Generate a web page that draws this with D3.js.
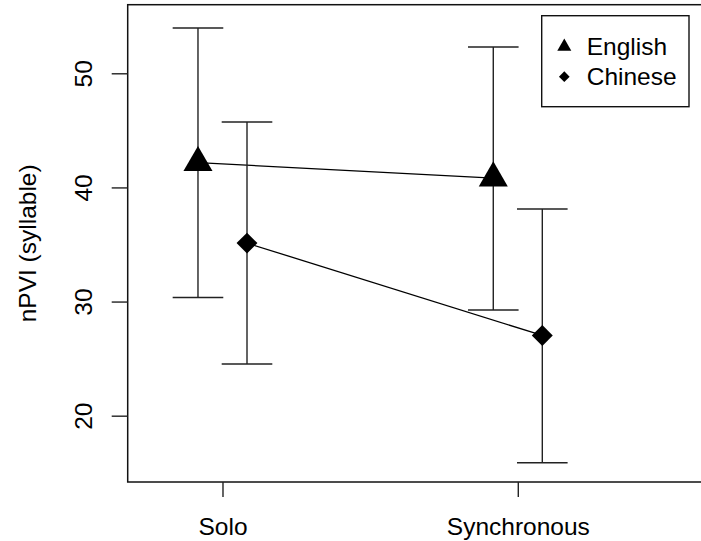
<!DOCTYPE html>
<html>
<head>
<meta charset="utf-8">
<script src="https://cdn.jsdelivr.net/npm/d3@7"></script>
<style>
  html, body { margin: 0; padding: 0; background: #fff; }
  svg { display: block; }
  text { font-family: "Liberation Sans", Arial, Helvetica, sans-serif; fill: #000; }
</style>
</head>
<body>
<svg id="chart" width="701" height="541"></svg>
<script>
// ---- data ----
const categories = ["Solo", "Synchronous"];
const seriesNames = ["English", "Chinese"];
const englishMean  = [42.17, 40.82];
const englishLower = [30.36, 29.26];
const englishUpper = [53.97, 52.30];
const chineseMean  = [35.12, 27.03];
const chineseLower = [24.53, 15.88];
const chineseUpper = [45.73, 38.11];
const yTicks = [20, 30, 40, 50];
const yLabel = "nPVI (syllable)";

(function () {
const series = [
  { name: seriesNames[0], mean: englishMean, lower: englishLower, upper: englishUpper, offset: -0.083, shape: "triangle" },
  { name: seriesNames[1], mean: chineseMean, lower: chineseLower, upper: chineseUpper, offset: 0.083, shape: "diamond" }
];

const svg = d3.select("#chart");
const plotLeft = 127.7, plotTop = 4.7, plotBottom = 482;

const x = d3.scaleLinear().domain([0.679, 2.7]).range([plotLeft, plotLeft + (2.7 - 0.679) * 295.3]);
const y = d3.scaleLinear().domain([14.19, 56.01]).range([plotBottom, plotTop]);

const fontSize = 24.5;
const ink = "#000";

function symbolPath(shape, big) {
  if (shape === "triangle") return d3.symbol(d3.symbolTriangle, big ? 365 : 85)();
  return d3.symbol(d3.symbolSquare, big ? 219 : 57)();
}
function symbolTransform(shape) { return shape === "diamond" ? " rotate(45)" : ""; }

const plot = svg.append("g");

// connecting lines
const line = d3.line().x(d => d[0]).y(d => d[1]);
series.forEach(s => {
  const pts = categories.map((c, i) => [x(i + 1 + s.offset), y(s.mean[i])]);
  plot.append("path").attr("d", line(pts)).attr("fill", "none")
    .attr("stroke", ink).attr("stroke-width", 1.3);
});

// error bars
const capHalf = 0.0857;
series.forEach(s => {
  categories.forEach((c, i) => {
    const cx = i + 1 + s.offset;
    const g = plot.append("g").attr("stroke", "#222").attr("stroke-width", 1.4);
    g.append("line").attr("x1", x(cx)).attr("x2", x(cx)).attr("y1", y(s.lower[i])).attr("y2", y(s.upper[i]));
    g.append("line").attr("x1", x(cx - capHalf)).attr("x2", x(cx + capHalf)).attr("y1", y(s.upper[i])).attr("y2", y(s.upper[i]));
    g.append("line").attr("x1", x(cx - capHalf)).attr("x2", x(cx + capHalf)).attr("y1", y(s.lower[i])).attr("y2", y(s.lower[i]));
  });
});

// markers
series.forEach(s => {
  categories.forEach((c, i) => {
    plot.append("path")
      .attr("d", symbolPath(s.shape, true))
      .attr("transform", `translate(${x(i + 1 + s.offset)},${y(s.mean[i])})${symbolTransform(s.shape)}`)
      .attr("fill", ink);
  });
});

// frame
svg.append("rect")
  .attr("x", plotLeft).attr("y", plotTop)
  .attr("width", x(2.7) - plotLeft).attr("height", plotBottom - plotTop)
  .attr("fill", "none").attr("stroke", "#111").attr("stroke-width", 1.5);

// y axis
const yAxis = svg.append("g").attr("transform", `translate(${plotLeft},0)`)
  .call(d3.axisLeft(y).tickValues(yTicks).tickSize(16).tickFormat(d3.format("d")));
yAxis.select(".domain").remove();
yAxis.selectAll(".tick line").attr("stroke", "#222").attr("stroke-width", 1.4);
yAxis.selectAll(".tick text")
  .attr("x", null).attr("dy", null).attr("y", null)
  .attr("text-anchor", "middle")
  .attr("transform", "translate(-35.5,0) rotate(-90)")
  .style("font-size", fontSize + "px")
  .style("font-family", "'Liberation Sans', Arial, Helvetica, sans-serif")
  .attr("fill", ink);

// x axis
const xAxis = svg.append("g").attr("transform", `translate(0,${plotBottom})`)
  .call(d3.axisBottom(x).tickValues([1, 2]).tickSize(15).tickFormat((d, i) => categories[i]));
xAxis.select(".domain").remove();
xAxis.selectAll(".tick line").attr("stroke", "#222").attr("stroke-width", 1.4);
xAxis.selectAll(".tick text")
  .attr("y", 53).attr("dy", null)
  .style("font-size", fontSize + "px")
  .style("font-family", "'Liberation Sans', Arial, Helvetica, sans-serif")
  .attr("fill", ink);

// y label
svg.append("text")
  .attr("transform", `translate(35.5,${(plotTop + plotBottom) / 2}) rotate(-90)`)
  .attr("text-anchor", "middle")
  .style("font-size", fontSize + "px")
  .text(yLabel);

// legend
const lg = svg.append("g");
lg.append("rect").attr("x", 541.7).attr("y", 15.7).attr("width", 147.3).attr("height", 91)
  .attr("fill", "#fff").attr("stroke", "#111").attr("stroke-width", 1.4);
series.forEach((s, i) => {
  const ly = 46.7 + i * 30;
  lg.append("path").attr("d", symbolPath(s.shape, false))
    .attr("transform", `translate(564.3,${ly})${symbolTransform(s.shape)}`)
    .attr("fill", ink);
  lg.append("text").attr("x", 586.7).attr("y", ly).attr("dy", "0.35em")
    .style("font-size", fontSize + "px").text(s.name);
});
})();
</script>
</body>
</html>
